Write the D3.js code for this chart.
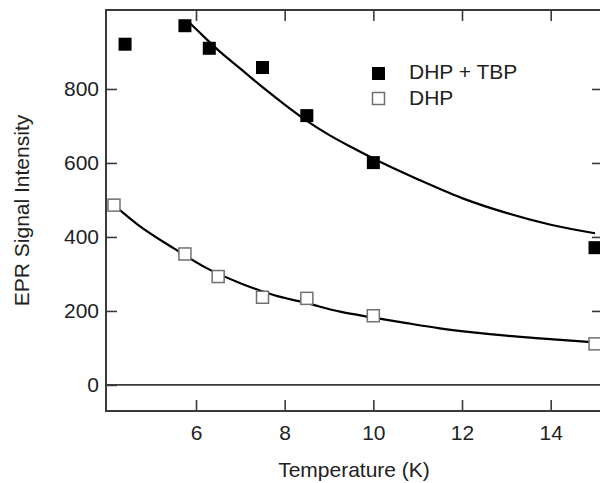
<!DOCTYPE html>
<html>
<head>
<meta charset="utf-8">
<script src="https://cdn.jsdelivr.net/npm/d3@7"></script>
<style>
  html, body { margin: 0; padding: 0; background: #fff; }
  svg { display: block; }
  text { font-family: Arial, "Liberation Sans", sans-serif; fill: #222; }
</style>
</head>
<body>
<script>
// ---- data ----
const tbpTemp = [4.4, 5.75, 6.3, 7.5, 8.5, 10, 15];
const tbpSignal = [921, 971, 910, 858, 728, 601, 371];

const dhpTemp = [4.15, 5.75, 6.5, 7.5, 8.5, 10, 15];
const dhpSignal = [486, 354, 293, 237, 234, 187, 111];

// fitted curves
const tbpFitTemp = [5.8, 6, 6.5, 7, 7.5, 8, 8.5, 9, 9.5, 10, 11, 12, 13, 14, 15];
const tbpFitSignal = [985, 962, 905, 855, 805, 758, 714, 676, 643, 612, 556, 505, 465, 433, 410];

const dhpFitTemp = [4.15, 4.7, 5.5, 6.25, 7, 7.75, 8.5, 9.25, 10, 10.75, 11.5, 12.25, 13, 13.75, 15];
const dhpFitSignal = [486, 432, 369, 315, 275, 243, 221, 198, 182, 167, 153, 142, 133, 126, 115];

const xTicks = [6, 8, 10, 12, 14];
const yTicks = [0, 200, 400, 600, 800];
const legendLabels = ["DHP + TBP", "DHP"];
const xTitle = "Temperature (K)";
const yTitle = "EPR Signal Intensity";

// ---- layout ----
const W = 600, H = 483;
const L = 106, R = 603, T = 10, B = 411;
const svg = d3.select("body").append("svg").attr("width", W).attr("height", H);

const x = d3.scaleLinear().domain([3.97, 15.18]).range([L, R]);
const y = d3.scaleLinear().domain([-70.5, 1013.5]).range([B, T]);

const axisColor = "#3a3a3a";
const fs = 21;

// frame
svg.append("rect").attr("x", L).attr("y", T).attr("width", R - L).attr("height", B - T)
  .attr("fill", "none").attr("stroke", axisColor).attr("stroke-width", 2);

// zero line
svg.append("line").attr("x1", L).attr("x2", R).attr("y1", y(0)).attr("y2", y(0))
  .attr("stroke", axisColor).attr("stroke-width", 1.6);

function styleAxis(g) {
  g.select(".domain").remove();
  g.selectAll(".tick line").attr("stroke", axisColor).attr("stroke-width", 1.6);
  g.selectAll(".tick text").style("font-size", fs + "px").attr("fill", "#222");
}

// bottom axis (inward ticks)
svg.append("g").attr("transform", `translate(0,${B})`)
  .call(d3.axisBottom(x).tickValues(xTicks).tickSizeInner(-11).tickSizeOuter(0).tickPadding(14).tickFormat(d3.format("d")))
  .call(styleAxis);
// top axis
svg.append("g").attr("transform", `translate(0,${T})`)
  .call(d3.axisTop(x).tickValues(xTicks).tickSizeInner(-11).tickSizeOuter(0).tickFormat(""))
  .call(styleAxis);
// left axis
svg.append("g").attr("transform", `translate(${L},0)`)
  .call(d3.axisLeft(y).tickValues(yTicks).tickSizeInner(-11).tickSizeOuter(0).tickPadding(7).tickFormat(d3.format("d")))
  .call(styleAxis);
// right axis
svg.append("g").attr("transform", `translate(${R},0)`)
  .call(d3.axisRight(y).tickValues(yTicks.filter(d => d !== 0)).tickSizeInner(-11).tickSizeOuter(0).tickFormat(""))
  .call(styleAxis);

// titles
svg.append("text").attr("x", (L + 600) / 2 + 1).attr("y", 477).attr("text-anchor", "middle")
  .style("font-size", fs + "px").text(xTitle);
svg.append("text").attr("transform", `translate(29,${(T + B) / 2}) rotate(-90)`)
  .attr("text-anchor", "middle").style("font-size", fs + "px").text(yTitle);

// fit curves
const line = d3.line().x(d => x(d[0])).y(d => y(d[1])).curve(d3.curveMonotoneX);
svg.append("path").datum(tbpFitTemp.map((t, i) => [t, tbpFitSignal[i]]))
  .attr("d", line).attr("fill", "none").attr("stroke", "#000").attr("stroke-width", 2.2);
svg.append("path").datum(dhpFitTemp.map((t, i) => [t, dhpFitSignal[i]]))
  .attr("d", line).attr("fill", "none").attr("stroke", "#000").attr("stroke-width", 2.2);

// markers
const ms = 13;
svg.append("g").selectAll("rect").data(dhpTemp.map((t, i) => [t, dhpSignal[i]])).join("rect")
  .attr("x", d => x(d[0]) - (ms - 1) / 2).attr("y", d => y(d[1]) - (ms - 1) / 2)
  .attr("width", ms - 1).attr("height", ms - 1)
  .attr("fill", "#fff").attr("stroke", "#707070").attr("stroke-width", 1.5);
svg.append("g").selectAll("rect").data(tbpTemp.map((t, i) => [t, tbpSignal[i]])).join("rect")
  .attr("x", d => x(d[0]) - ms / 2).attr("y", d => y(d[1]) - ms / 2)
  .attr("width", ms).attr("height", ms).attr("fill", "#000");

// legend
const lg = svg.append("g");
lg.append("rect").attr("x", 372).attr("y", 67).attr("width", 13).attr("height", 13).attr("fill", "#000");
lg.append("rect").attr("x", 372.5).attr("y", 92.5).attr("width", 12).attr("height", 12)
  .attr("fill", "#fff").attr("stroke", "#707070").attr("stroke-width", 1.5);
lg.append("text").attr("x", 409).attr("y", 78.5).style("font-size", fs + "px").text(legendLabels[0]);
lg.append("text").attr("x", 409).attr("y", 105).style("font-size", fs + "px").text(legendLabels[1]);
</script>
</body>
</html>
